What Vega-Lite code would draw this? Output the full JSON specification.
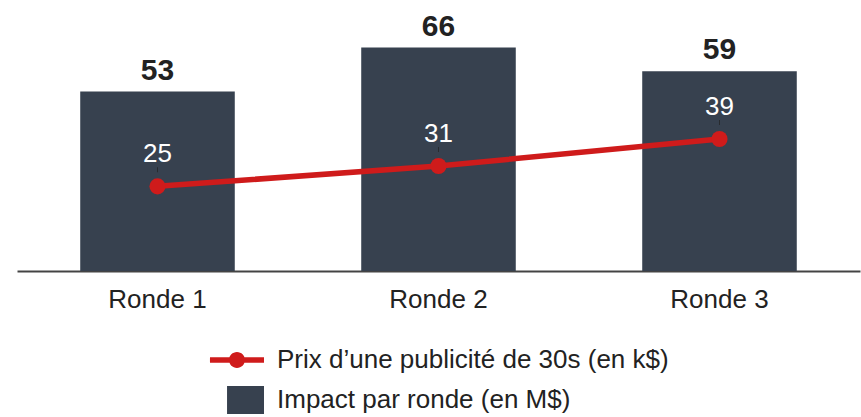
{
  "$schema": "https://vega.github.io/schema/vega-lite/v6.json",
  "width": 843,
  "height": 237,
  "autosize": "none",
  "padding": {"left": 17, "top": 34, "right": 1, "bottom": 146},
  "background": "white",
  "config": {
    "view": {"stroke": null},
    "font": "Liberation Sans"
  },
  "data": {
    "values": [
      {"ronde": "Ronde 1", "impact": 53, "prix": 25},
      {"ronde": "Ronde 2", "impact": 66, "prix": 31},
      {"ronde": "Ronde 3", "impact": 59, "prix": 39}
    ]
  },
  "encoding": {
    "x": {
      "field": "ronde",
      "type": "nominal",
      "sort": null,
      "scale": {"paddingInner": 0.45, "paddingOuter": 0.225},
      "axis": {
        "title": null,
        "labelAngle": 0,
        "labelFont": "Liberation Sans",
        "labelFontSize": 26,
        "labelColor": "#222222",
        "labelPadding": 15,
        "ticks": false,
        "domainColor": "#444444",
        "domainWidth": 2
      }
    }
  },
  "layer": [
    {
      "mark": {"type": "bar"},
      "encoding": {
        "y": {"field": "impact", "type": "quantitative", "scale": {"domain": [0, 70], "nice": false}, "axis": null},
        "color": {
          "datum": "Impact par ronde (en M$)",
          "type": "nominal",
          "scale": {
            "domain": ["Prix d’une publicité de 30s (en k$)", "Impact par ronde (en M$)"],
            "range": ["#cf1b1b", "#37414f"]
          },
          "legend": {
            "title": null,
            "orient": "none",
            "legendX": 219,
            "legendY": 312,
            "direction": "vertical",
            "padding": 0,
            "rowPadding": 13,
            "labelFont": "Liberation Sans",
            "labelFontSize": 26,
            "labelColor": "#222222",
            "labelOffset": 13,
            "labelLimit": 0,
            "symbolSize": 784,
            "encode": {
              "symbols": {
                "update": {
                  "shape": {"signal": "datum.value === 'Impact par ronde (en M$)' ? 'M-1.64,-1L1,-1L1,1L-1.64,1Z' : 'M-2.86,-0.2L1,-0.2L1,0.2L-2.86,0.2Z M-1.5,0A0.57,0.57 0 1,1 -0.36,0A0.57,0.57 0 1,1 -1.5,0Z'"},
                  "size": {"value": 784},
                  "fill": {"signal": "datum.value === 'Impact par ronde (en M$)' ? '#37414f' : '#cf1b1b'"},
                  "stroke": {"value": null},
                  "strokeWidth": {"value": 0},
                  "opacity": {"value": 1},
                  "fillOpacity": {"value": 1}
                }
              }
            }
          }
        }
      }
    },
    {
      "mark": {"type": "text", "font": "Liberation Sans", "fontWeight": "bold", "fontSize": 30, "color": "#222222", "baseline": "alphabetic", "dy": -12},
      "encoding": {
        "y": {"field": "impact", "type": "quantitative"},
        "text": {"field": "impact", "type": "quantitative"}
      }
    },
    {
      "mark": {"type": "line", "color": "#cf1b1b", "strokeWidth": 5.5},
      "encoding": {
        "y": {"field": "prix", "type": "quantitative"},
        "color": {"datum": "Prix d’une publicité de 30s (en k$)", "type": "nominal"}
      }
    },
    {
      "mark": {"type": "point", "filled": true, "opacity": 1, "size": 260, "color": "#cf1b1b"},
      "encoding": {
        "y": {"field": "prix", "type": "quantitative"}
      }
    },
    {
      "mark": {"type": "tick", "orient": "vertical", "size": 5, "thickness": 1, "color": "#222222", "yOffset": -16.5},
      "encoding": {
        "y": {"field": "prix", "type": "quantitative"}
      }
    },
    {
      "mark": {"type": "text", "font": "Liberation Sans", "fontSize": 26, "color": "#ffffff", "baseline": "alphabetic", "dy": -24},
      "encoding": {
        "y": {"field": "prix", "type": "quantitative"},
        "text": {"field": "prix", "type": "quantitative"}
      }
    }
  ]
}
